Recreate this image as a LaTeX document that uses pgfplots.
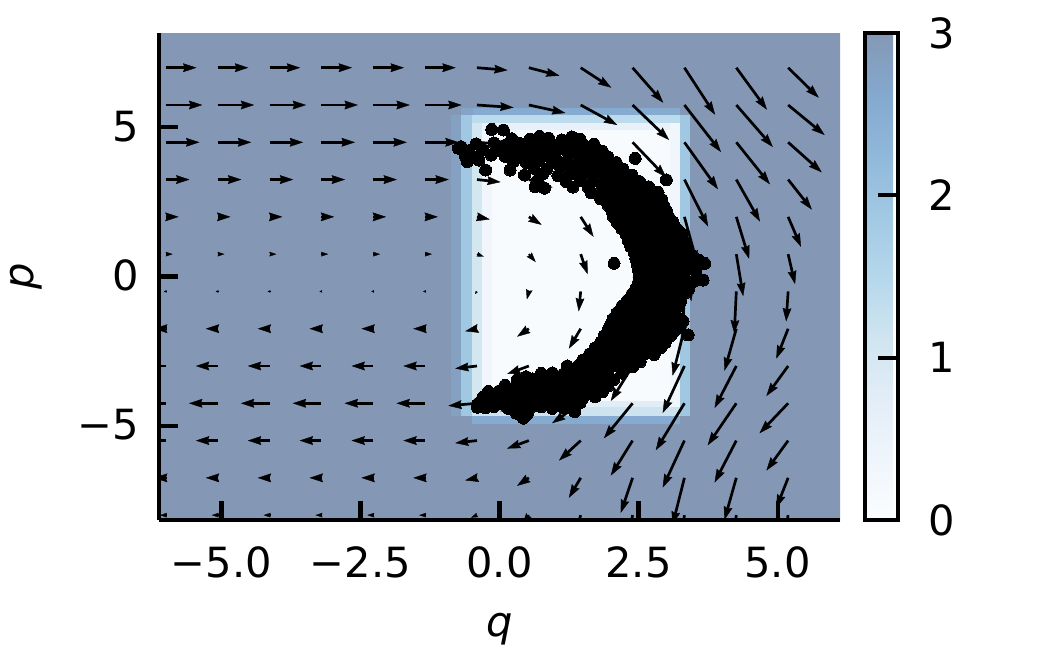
\documentclass[border=0pt]{standalone}
\usepackage{fontspec}
\setmainfont{DejaVu Sans}
\usepackage{pgfplots}
\pgfplotsset{compat=1.18}
\usepgfplotslibrary{patchplots}
\usetikzlibrary{arrows.meta}

\pgfplotsset{
  colormap={blueshalf}{rgb255=(251,253,255) rgb255=(239,245,251) rgb255=(227,237,247) rgb255=(207,229,240) rgb255=(181,215,235) rgb255=(161,201,227) rgb255=(144,184,218) rgb255=(132,168,206) rgb255=(132,152,181)},
  every tick/.style={line width=2.08pt, black},
}

\begin{document}
\begin{tikzpicture}
\useasboundingbox (-79.5pt,-65pt) rectangle (445.5pt,260pt);
\begin{axis}[
  at={(0,0)}, anchor=south west,
  scale only axis, width=340.5pt, height=243.5pt,
  xmin=-6.1224, xmax=6.1224, ymin=-8.1633, ymax=8.1633,
  axis x line*=bottom, axis y line*=left,
  axis line style={line width=2.08pt, black},
  tick align=inside,
  major tick length=9.4pt,
  xtick={-5,-2.5,0,2.5,5}, xticklabels={−5.0,−2.5,0.0,2.5,5.0},
  ytick={-5,0,5}, yticklabels={−5,0,5},
  minor tick num=0,
  xticklabel style={font=\fontsize{20.8}{25}\selectfont, inner sep=0pt, anchor=base, yshift=-28.5pt},
  yticklabel style={font=\fontsize{20.8}{25}\selectfont, inner sep=0pt, anchor=base east, xshift=-9.75pt, yshift=-7pt},
  xlabel={\textit{q}}, ylabel={\textit{p}},
  every axis x label/.style={at={(axis description cs:0.5,-0.2382)}, anchor=base, font=\fontsize{20.8}{25}\selectfont},
  every axis y label/.style={at={(axis description cs:-0.185,0.5)}, rotate=90, anchor=base, font=\fontsize{20.8}{25}\selectfont},
  colormap name=blueshalf,
  point meta min=0, point meta max=3,
  colorbar,
  colorbar style={
    at={(parent axis.north east)}, anchor=north west, xshift=3.8pt,
    scale only axis, width=16.7pt, height=243.5pt,
    ytick={0,1,2,3}, yticklabels={0,1,2,3},
    ytick pos=right, tick align=inside, major tick length=10pt,
    yticklabel pos=right,
    yticklabel style={font=\fontsize{20.8}{25}\selectfont, inner sep=0pt, anchor=base west, xshift=15pt, yshift=-7.5pt},
    axis line style={line width=2.08pt, black},
    axis on top,
  },
  axis on top,
]

% heatmap (layered rectangles, meta = value)
\addplot[patch, patch type=rectangle, shader=flat, point meta=explicit] table[meta=c] {
x y c
-6.1224 -8.1633 3
6.1224 -8.1633 3
6.1224 8.1633 3
-6.1224 8.1633 3
-0.87 -4.643 2.8
-0.694 -4.643 2.8
-0.694 5.414 2.8
-0.87 5.414 2.8
-0.488 5.414 2.55
3.241 5.414 2.55
3.241 5.639 2.55
-0.488 5.639 2.55
-0.694 5.414 2.75
-0.488 5.414 2.75
-0.488 5.639 2.75
-0.694 5.639 2.75
-0.488 -4.921 2.55
3.241 -4.921 2.55
3.241 -4.643 2.55
-0.488 -4.643 2.55
-0.694 -4.643 1.9
3.419 -4.643 1.9
3.419 5.414 1.9
-0.694 5.414 1.9
-0.488 5.136 1.4
3.241 5.136 1.4
3.241 5.414 1.4
-0.488 5.414 1.4
-0.488 -4.643 1.15
3.241 -4.643 1.15
3.241 -4.365 1.15
-0.488 -4.365 1.15
-0.488 -4.365 1.05
-0.311 -4.365 1.05
-0.311 5.136 1.05
-0.488 5.136 1.05
-0.311 -4.365 0.35
3.241 -4.365 0.35
3.241 5.136 0.35
-0.311 5.136 0.35
-0.311 4.911 0.6
3.063 4.911 0.6
3.063 5.136 0.6
-0.311 5.136 0.6
-0.311 -4.365 0.8
3.063 -4.365 0.8
3.063 -4.140 0.8
-0.311 -4.140 0.8
-0.133 -4.140 0.08
3.063 -4.140 0.08
3.063 4.911 0.08
-0.133 4.911 0.08
};

% quiver: full-size arrows
\addplot[black, line width=1.35pt, -{Stealth[length=6.7pt,width=4.4pt,inset=0.8pt,line width=0.2pt]},
  quiver={u=\thisrow{u}, v=\thisrow{v}}] table {
x y u v
-6.000 -6.75 -0.213 0
-5.068 -6.75 -0.213 0
-4.135 -6.75 -0.213 0
-3.203 -6.75 -0.213 0
-2.270 -6.75 -0.213 0
-1.338 -6.75 -0.213 0
-0.405 -6.75 -0.213 -0.084
0.528 -6.75 -0.213 -0.268
1.460 -6.75 -0.213 -0.670
2.393 -6.75 -0.213 -1.173
3.325 -6.75 -0.213 -1.576
4.258 -6.75 -0.213 -1.408
5.190 -6.75 -0.213 -1.006
-6.000 -5.50 -0.391 0
-5.068 -5.50 -0.391 0
-4.135 -5.50 -0.391 0
-3.203 -5.50 -0.391 0
-2.270 -5.50 -0.391 0
-1.338 -5.50 -0.391 0
-0.405 -5.50 -0.391 -0.084
0.528 -5.50 -0.391 -0.268
1.460 -5.50 -0.391 -0.670
2.393 -5.50 -0.391 -1.173
3.325 -5.50 -0.391 -1.576
4.258 -5.50 -0.391 -1.408
5.190 -5.50 -0.391 -1.006
-6.000 -4.25 -0.515 0
-5.068 -4.25 -0.515 0
-4.135 -4.25 -0.515 0
-3.203 -4.25 -0.515 0
-2.270 -4.25 -0.515 0
-1.338 -4.25 -0.515 0
-0.405 -4.25 -0.515 -0.084
0.528 -4.25 -0.515 -0.268
1.460 -4.25 -0.515 -0.670
2.393 -4.25 -0.515 -1.173
3.325 -4.25 -0.515 -1.576
4.258 -4.25 -0.515 -1.408
5.190 -4.25 -0.515 -1.006
-6.000 -3.00 -0.391 0
-5.068 -3.00 -0.391 0
-4.135 -3.00 -0.391 0
-3.203 -3.00 -0.391 0
-2.270 -3.00 -0.391 0
-1.338 -3.00 -0.391 0
-0.405 -3.00 -0.391 -0.084
0.528 -3.00 -0.391 -0.268
1.460 -3.00 -0.391 -0.670
2.393 -3.00 -0.391 -1.173
3.325 -3.00 -0.391 -1.576
4.258 -3.00 -0.391 -1.408
5.190 -3.00 -0.391 -1.006
-6.000 -1.75 -0.213 0
-5.068 -1.75 -0.213 0
-4.135 -1.75 -0.213 0
-3.203 -1.75 -0.213 0
-2.270 -1.75 -0.213 0
-1.338 -1.75 -0.213 0
-0.405 -1.75 -0.213 -0.084
0.528 -1.75 -0.213 -0.268
1.460 -1.75 -0.213 -0.670
2.393 -1.75 -0.213 -1.173
3.325 -1.75 -0.213 -1.576
4.258 -1.75 -0.213 -1.408
5.190 -1.75 -0.213 -1.006
-6.000 2.00 0.231 0
-5.068 2.00 0.231 0
-4.135 2.00 0.231 0
-3.203 2.00 0.231 0
-2.270 2.00 0.231 0
-1.338 2.00 0.231 0
-0.405 2.00 0.231 -0.084
0.528 2.00 0.231 -0.268
1.460 2.00 0.231 -0.670
2.393 2.00 0.231 -1.173
3.325 2.00 0.231 -1.576
4.258 2.00 0.231 -1.408
5.190 2.00 0.231 -1.006
-6.000 3.25 0.426 0
-5.068 3.25 0.426 0
-4.135 3.25 0.426 0
-3.203 3.25 0.426 0
-2.270 3.25 0.426 0
-1.338 3.25 0.426 0
-0.405 3.25 0.426 -0.084
0.528 3.25 0.426 -0.268
1.460 3.25 0.426 -0.670
2.393 3.25 0.426 -1.173
3.325 3.25 0.426 -1.576
4.258 3.25 0.426 -1.408
5.190 3.25 0.426 -1.006
-6.000 4.50 0.604 0
-5.068 4.50 0.604 0
-4.135 4.50 0.604 0
-3.203 4.50 0.604 0
-2.270 4.50 0.604 0
-1.338 4.50 0.604 0
-0.405 4.50 0.604 -0.084
0.528 4.50 0.604 -0.268
1.460 4.50 0.604 -0.670
2.393 4.50 0.604 -1.173
3.325 4.50 0.604 -1.576
4.258 4.50 0.604 -1.408
5.190 4.50 0.604 -1.006
-6.000 5.75 0.657 0
-5.068 5.75 0.657 0
-4.135 5.75 0.657 0
-3.203 5.75 0.657 0
-2.270 5.75 0.657 0
-1.338 5.75 0.657 0
-0.405 5.75 0.657 -0.084
0.528 5.75 0.657 -0.268
1.460 5.75 0.657 -0.670
2.393 5.75 0.657 -1.173
3.325 5.75 0.657 -1.576
4.258 5.75 0.657 -1.408
5.190 5.75 0.657 -1.006
-6.000 7.00 0.551 0
-5.068 7.00 0.551 0
-4.135 7.00 0.551 0
-3.203 7.00 0.551 0
-2.270 7.00 0.551 0
-1.338 7.00 0.551 0
-0.405 7.00 0.551 -0.084
0.528 7.00 0.551 -0.268
1.460 7.00 0.551 -0.670
2.393 7.00 0.551 -1.173
3.325 7.00 0.551 -1.576
4.258 7.00 0.551 -1.408
5.190 7.00 0.551 -1.006
1.460 -8.00 -0.107 -0.670
2.393 -8.00 -0.107 -1.173
3.325 -8.00 -0.107 -1.576
4.258 -8.00 -0.107 -1.408
5.190 -8.00 -0.107 -1.006
1.460 -0.50 -0.036 -0.670
2.393 -0.50 -0.036 -1.173
3.325 -0.50 -0.036 -1.576
4.258 -0.50 -0.036 -1.408
5.190 -0.50 -0.036 -1.006
1.460 0.75 0.124 -0.670
2.393 0.75 0.124 -1.173
3.325 0.75 0.124 -1.576
4.258 0.75 0.124 -1.408
5.190 0.75 0.124 -1.006
};

% quiver: medium arrows
\addplot[black, line width=1pt, -{Stealth[length=5pt,width=3.3pt,inset=0.6pt,line width=0.2pt]},
  quiver={u=\thisrow{u}, v=\thisrow{v}}] table {
x y u v
0.528 -8.00 -0.107 -0.268
0.528 -0.50 -0.036 -0.268
0.528 0.75 0.124 -0.268
};

% quiver: short arrows
\addplot[black, line width=0.7pt, -{Stealth[length=3.5pt,width=2.3pt,inset=0.4pt,line width=0.15pt]},
  quiver={u=\thisrow{u}, v=\thisrow{v}}] table {
x y u v
-6.000 -8.00 -0.107 0
-5.068 -8.00 -0.107 0
-4.135 -8.00 -0.107 0
-3.203 -8.00 -0.107 0
-2.270 -8.00 -0.107 0
-1.338 -8.00 -0.107 0
-0.405 -8.00 -0.107 -0.084
-6.000 0.75 0.124 0
-5.068 0.75 0.124 0
-4.135 0.75 0.124 0
-3.203 0.75 0.124 0
-2.270 0.75 0.124 0
-1.338 0.75 0.124 0
-0.405 0.75 0.124 -0.084
};

% quiver: tiny arrows
\addplot[black, line width=0.4pt, -{Stealth[length=1.4pt,width=1.2pt,inset=0.2pt,line width=0.1pt]},
  quiver={u=\thisrow{u}, v=\thisrow{v}}] table {
x y u v
-6.000 -0.50 -0.036 0
-5.068 -0.50 -0.036 0
-4.135 -0.50 -0.036 0
-3.203 -0.50 -0.036 0
-2.270 -0.50 -0.036 0
-1.338 -0.50 -0.036 0
-0.405 -0.50 -0.036 -0.084
};

% scatter
\addplot[only marks, mark=*, mark size=3pt, mark options={fill=black, draw=black, line width=0pt}] table {
q p
-0.14 4.93
0.07 4.91
-0.69 4.35
0.22 4.62
0.55 4.60
0.88 4.64
1.12 4.58
1.45 4.60
0.72 4.70
1.30 4.68
-0.42 4.45
-0.10 4.48
0.12 4.42
0.35 4.47
0.60 4.43
0.83 4.46
1.05 4.42
1.30 4.47
1.52 4.40
1.70 4.43
-0.74 4.30
-0.55 4.22
-0.30 4.26
-0.05 4.21
0.20 4.27
0.42 4.23
0.65 4.26
0.90 4.22
1.15 4.27
1.38 4.22
1.60 4.25
1.85 4.20
-0.62 4.05
-0.40 4.02
-0.15 4.07
0.10 4.03
0.33 4.06
0.55 4.01
0.78 4.05
1.00 4.02
1.25 4.07
1.48 4.03
1.70 4.06
1.95 4.00
2.44 3.96
-0.58 3.85
-0.37 3.90
0.25 3.86
0.48 3.82
0.70 3.87
0.95 3.83
1.20 3.86
1.42 3.82
1.65 3.87
1.88 3.84
2.10 3.82
-0.25 3.57
0.19 3.57
0.62 3.63
0.85 3.60
1.10 3.65
1.32 3.60
1.55 3.64
1.78 3.61
2.00 3.64
2.22 3.60
0.45 3.40
0.78 3.44
1.05 3.38
1.28 3.43
1.50 3.40
1.72 3.44
1.95 3.41
2.15 3.44
2.38 3.40
0.68 3.22
1.20 3.18
1.45 3.22
1.68 3.19
1.90 3.23
2.12 3.20
2.32 3.22
2.52 3.18
3.00 3.24
0.64 3.01
0.81 2.96
1.32 3.00
1.60 2.98
1.85 3.02
2.05 2.99
2.28 3.02
2.48 2.98
2.68 3.01
1.65 2.80
1.88 2.78
2.10 2.82
2.30 2.79
2.50 2.81
2.70 2.78
2.85 2.82
1.82 2.60
2.00 2.62
2.20 2.58
2.40 2.61
2.60 2.59
2.78 2.62
2.92 2.58
1.95 2.40
2.15 2.38
2.35 2.42
2.55 2.39
2.75 2.41
2.95 2.38
2.02 2.20
2.22 2.22
2.42 2.18
2.62 2.21
2.82 2.19
3.00 2.22
2.05 2.00
2.25 1.98
2.45 2.02
2.65 1.99
2.85 2.01
3.05 1.98
2.12 1.80
2.32 1.82
2.52 1.78
2.72 1.81
2.92 1.79
3.12 1.82
2.20 1.60
2.40 1.58
2.60 1.62
2.80 1.59
3.00 1.61
3.20 1.58
2.28 1.40
2.48 1.42
2.68 1.38
2.88 1.41
3.08 1.39
3.28 1.42
2.32 1.20
2.52 1.18
2.72 1.22
2.92 1.19
3.12 1.21
3.32 1.18
2.36 1.00
2.56 1.02
2.76 0.98
2.96 1.01
3.16 0.99
3.36 1.02
2.42 0.80
2.62 0.78
2.82 0.82
3.02 0.79
3.22 0.81
3.42 0.78
2.45 0.60
2.65 0.62
2.85 0.58
3.05 0.61
3.25 0.59
3.45 0.62
3.58 0.56
2.06 0.44
3.69 0.44
2.48 0.40
2.68 0.38
2.88 0.42
3.08 0.39
3.28 0.41
3.50 0.38
2.50 0.20
2.70 0.22
2.90 0.18
3.10 0.21
3.30 0.19
3.52 0.22
2.52 0.00
2.72 -0.02
2.92 0.02
3.12 -0.01
3.32 0.01
3.55 -0.02
3.66 -0.12
2.50 -0.20
2.70 -0.18
2.90 -0.22
3.10 -0.19
3.30 -0.21
3.48 -0.18
2.45 -0.40
2.65 -0.42
2.85 -0.38
3.05 -0.41
3.25 -0.39
3.40 -0.42
2.38 -0.60
2.58 -0.58
2.78 -0.62
2.98 -0.59
3.18 -0.61
3.32 -0.58
2.30 -0.80
2.50 -0.82
2.70 -0.78
2.90 -0.81
3.10 -0.79
3.26 -0.82
2.20 -1.00
2.40 -0.98
2.60 -1.02
2.80 -0.99
3.00 -1.01
3.22 -0.98
2.12 -1.20
2.32 -1.22
2.52 -1.18
2.72 -1.21
2.92 -1.19
3.15 -1.22
2.05 -1.40
2.25 -1.38
2.45 -1.42
2.65 -1.39
2.85 -1.41
3.05 -1.38
3.25 -1.42
2.00 -1.60
2.20 -1.62
2.40 -1.58
2.60 -1.61
2.80 -1.59
3.00 -1.62
3.20 -1.58
1.95 -1.80
2.15 -1.78
2.35 -1.82
2.55 -1.79
2.75 -1.81
2.95 -1.78
3.15 -1.82
3.39 -1.96
3.30 -1.50
1.88 -2.00
2.08 -2.02
2.28 -1.98
2.48 -2.01
2.68 -1.99
2.88 -2.02
3.08 -1.98
1.82 -2.20
2.02 -2.18
2.22 -2.22
2.42 -2.19
2.62 -2.21
2.82 -2.18
2.98 -2.22
1.72 -2.40
1.92 -2.42
2.12 -2.38
2.32 -2.41
2.52 -2.39
2.72 -2.42
2.90 -2.38
1.62 -2.60
1.82 -2.58
2.02 -2.62
2.22 -2.59
2.42 -2.61
2.62 -2.58
2.78 -2.62
1.50 -2.80
1.70 -2.82
1.90 -2.78
2.10 -2.81
2.30 -2.79
2.53 -2.86
1.22 -3.00
1.42 -2.98
1.62 -3.02
1.82 -2.99
2.02 -3.01
2.22 -2.98
2.40 -3.02
0.75 -3.25
0.95 -3.23
1.15 -3.27
1.35 -3.24
1.55 -3.26
1.75 -3.23
1.95 -3.27
2.20 -3.24
0.48 -3.36
0.32 -3.45
0.60 -3.43
0.85 -3.47
1.05 -3.44
1.25 -3.46
1.45 -3.43
1.65 -3.47
1.85 -3.44
2.05 -3.46
0.10 -3.65
0.30 -3.67
0.52 -3.63
0.72 -3.66
0.92 -3.64
1.12 -3.67
1.32 -3.63
1.52 -3.66
1.72 -3.64
1.95 -3.67
-0.20 -3.85
0.00 -3.83
0.20 -3.87
0.42 -3.84
0.62 -3.86
0.82 -3.83
1.02 -3.87
1.22 -3.84
1.42 -3.86
1.62 -3.83
1.85 -3.87
-0.30 -4.05
-0.10 -4.07
0.10 -4.03
0.30 -4.06
0.50 -4.04
0.70 -4.07
0.90 -4.03
1.10 -4.06
1.30 -4.04
1.50 -4.07
1.72 -4.03
-0.38 -4.25
-0.18 -4.23
0.02 -4.27
0.22 -4.24
0.42 -4.26
0.62 -4.23
0.82 -4.27
1.02 -4.24
1.22 -4.26
1.45 -4.23
-0.40 -4.38
-0.25 -4.40
-0.10 -4.36
0.15 -4.42
0.35 -4.38
0.55 -4.41
0.75 -4.37
0.95 -4.42
1.15 -4.39
1.32 -4.40
0.30 -4.58
0.50 -4.62
1.35 -4.53
0.43 -4.75
};
\end{axis}
\end{tikzpicture}
\end{document}
